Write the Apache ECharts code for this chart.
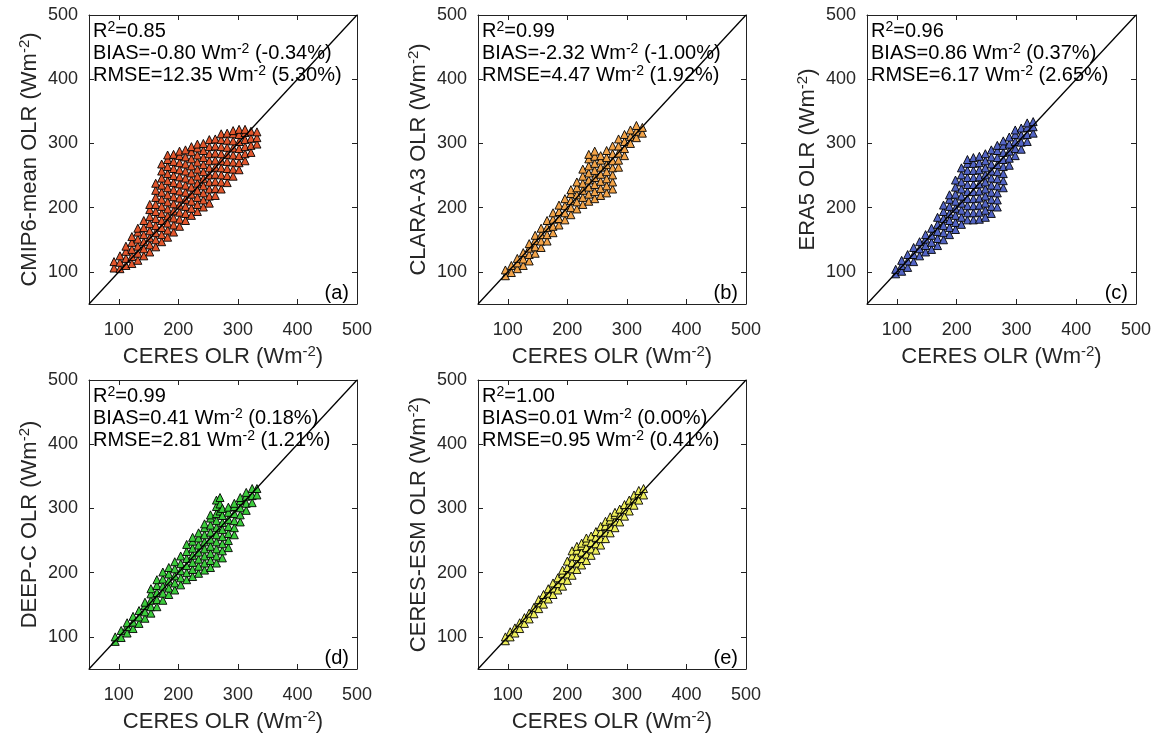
<!DOCTYPE html>
<html><head><meta charset="utf-8">
<script src="https://cdn.jsdelivr.net/npm/echarts@6/dist/echarts.min.js"></script>
<style>html,body{margin:0;padding:0;background:#fff}#c{width:1161px;height:740px}</style>
</head><body><div id="c"></div>
<script>
// ---- values ----
const axisMin = 50, axisMax = 500;
const tickValues = [100, 200, 300, 400, 500];
const panelLetters = ['(a)', '(b)', '(c)', '(d)', '(e)'];
const yNames = ['CMIP6-mean OLR', 'CLARA-A3 OLR', 'ERA5 OLR', 'DEEP-C OLR', 'CERES-ESM OLR'];
const xName = 'CERES OLR';
const r2Values = ['0.85', '0.99', '0.96', '0.99', '1.00'];
const biasValues = ['-0.80', '-2.32', '0.86', '0.41', '0.01'];
const biasPercents = ['(-0.34%)', '(-1.00%)', '(0.37%)', '(0.18%)', '(0.00%)'];
const rmseValues = ['12.35', '4.47', '6.17', '2.81', '0.95'];
const rmsePercents = ['(5.30%)', '(1.92%)', '(2.65%)', '(1.21%)', '(0.41%)'];
const oneToOne = [[50, 50], [500, 500]];

// scatter clouds: each entry = [CERES OLR, model OLR values at that CERES OLR...]
const cloudCMIP6 = [
 [92,106,116],[102,105,115,125],[112,110,121,132,140],[122,113,124,135,146,155],
 [132,118,129,140,151,162,168],[142,125,136,147,158,169,180],
 [152,131,142,153,164,175,186,197,205],[162,139,150,161,172,183,194,205,216,227,238],
 [172,147,158,169,180,191,202,213,224,235,246,257,268],
 [182,154,165,176,187,198,209,220,231,242,253,264,275,282],
 [192,162,173,184,195,206,217,228,239,250,261,272,283],
 [202,171,182,193,204,215,226,237,248,259,270,281,288],
 [212,180,191,202,213,224,235,246,257,268,279,290],
 [222,188,199,210,221,232,243,254,265,276,287,295],
 [232,194,205,216,227,238,249,260,271,282,293,299],
 [242,201,212,223,234,245,256,267,278,289,300],
 [252,207,218,229,240,251,262,273,284,295,306],
 [262,219,230,241,252,263,274,285,296,307],
 [272,229,240,251,262,273,284,295,306,315],
 [282,239,250,261,272,283,294,305,316],
 [292,249,260,271,282,293,304,315,320],
 [302,259,270,281,292,303,314,322],[312,273,284,295,306,317,322],
 [322,286,297,308,319],[332,299,309,318]
];
const cloudCLARA = [
 [96,94,103],[106,99,110],[116,105,114,121],[126,110,120,130],[136,117,127,137,144],
 [146,129,139,149,157],[156,138,148,158,168],[166,148,158,169,180],[176,161,171,182,192],
 [186,173,183,194,204],[196,181,192,203,214],[206,189,200,211,222,228],
 [216,198,209,220,231,240],[226,205,216,227,238,249,260],
 [236,210,221,232,243,254,265,276,283],[246,214,225,236,247,258,269,280,288],
 [256,219,230,241,252,263,274,281],[266,223,234,245,256,267,278,289],
 [276,229,240,251,262,273,284,296],[286,263,274,285,296,307],
 [296,281,292,303,314],[306,300,311,321],[316,309,319,328],[326,316,325]
];
const cloudERA5 = [
 [98,97,104],[108,101,110,118],[118,107,117,127],[128,116,127,138],[138,125,136,147],
 [148,131,141,151,158],[158,135,146,157,168],[168,141,152,163,174,185],
 [178,150,161,172,183,194,204],[188,158,169,180,191,202,213,220],
 [198,166,177,188,199,210,221,232,243],[208,174,185,196,207,218,229,240,251,262],
 [218,181,192,203,214,225,236,247,258,269,275],[228,181,192,203,214,225,236,247,258,269,278],
 [238,182,193,204,215,226,237,248,259,270,280],[248,185,196,207,218,229,240,251,262,273,284],
 [258,191,202,213,224,235,246,257,268,279,290],[268,201,212,223,234,245,256,267,278,289,297],
 [278,231,242,253,264,275,286,297,304],[288,266,277,288,299,310],
 [298,281,292,303,314,321],[308,291,302,313,324],[318,303,314,325,332],[328,316,326,334]
];
const cloudDEEPC = [
 [94,93,100],[104,99,110],[114,106,116,122],[124,113,123,132],[134,121,131,141],
 [144,129,139,149,154],[154,137,147,157,167,175],[164,147,158,169,180,189],
 [174,157,168,179,190,201],[184,166,176,187,198,208],[194,173,184,195,206,217],
 [204,181,192,203,214,226],[214,189,200,211,222,233,244],[224,194,205,216,227,238,249,255],
 [234,199,210,221,232,243,254,262],[244,204,215,226,237,248,259,270,276],
 [254,208,219,230,241,252,263,274,285,290],[264,215,226,237,248,259,270,281,292,303,313],
 [270,296,307,317],[274,223,234,245,256,267,278,289,300],[284,239,250,261,272,283,294,302],
 [294,259,270,281,292,303,308],[304,279,290,301,312,317],[314,297,308,319,325],
 [324,309,320,331],[332,321,331]
];
const cloudESM = [
 [96,94,100],[104,100,108],[112,106,114],[120,113,122],[128,121,130],[136,128,137],
 [144,136,146],[152,144,153,158],[160,151,161,166],[168,159,168,175],[176,166,176,184],
 [184,173,183,192],[192,179,189,199,204],[200,188,198,208,218],[208,196,206,216,226,234],
 [216,205,215,225,235,241],[224,212,222,232,242,246],[232,219,229,239,249,254],
 [240,227,237,247,257],[248,235,245,255,264],[256,243,253,263,272],[264,253,263,273,280],
 [272,262,272,282,287],[280,270,280,290,294],[288,279,289,299],[296,288,298,306],
 [304,296,306,313],[312,305,315,321],[320,313,323,328],[328,321,331]
];
const clouds = [cloudCMIP6, cloudCLARA, cloudERA5, cloudDEEPC, cloudESM];
const fillColors = ['#e2562c', '#f2a348', '#5264c4', '#3ccc3c', '#eeee5a'];

// ---- layout ----
const F = '"Liberation Sans", Arial, Helvetica, sans-serif';
const grids = [
  {left: 89, top: 15, width: 268, height: 289},
  {left: 478, top: 15, width: 268, height: 289},
  {left: 867, top: 15, width: 269, height: 289},
  {left: 89, top: 380, width: 268, height: 289},
  {left: 478, top: 380, width: 268, height: 289}
];
const axisColor = '#222';
const richName = {
  m: {fontSize: 22, fontFamily: F, color: '#262626', lineHeight: 25},
  s: {fontSize: 15, fontFamily: F, color: '#262626', lineHeight: 15, verticalAlign: 'top'}
};
const richNote = {
  m: {fontSize: 20, fontFamily: F, color: '#000', lineHeight: 22},
  s: {fontSize: 14, fontFamily: F, color: '#000', lineHeight: 14, verticalAlign: 'top'}
};

const xAxes = [], yAxes = [], series = [], graphics = [];
grids.forEach((g, i) => {
  const common = {
    type: 'value', gridIndex: i, min: axisMin, max: axisMax,
    splitLine: {show: false},
    axisLine: {show: true, onZero: false, lineStyle: {color: axisColor, width: 1}},
    axisTick: {show: true, inside: true, length: 5, customValues: tickValues, lineStyle: {color: axisColor, width: 1}}
  };
  xAxes.push(Object.assign({}, common, {
    position: 'bottom',
    axisLabel: {show: true, customValues: tickValues, margin: 17, fontSize: 18, fontFamily: F, color: '#262626'},
    name: '{m|' + xName + ' (Wm}{s|-2}{m|)}', nameLocation: 'middle', nameGap: 40,
    nameTextStyle: {rich: richName}
  }));
  xAxes.push(Object.assign({}, common, {position: 'top', axisLabel: {show: false}}));
  yAxes.push(Object.assign({}, common, {
    position: 'left',
    axisLabel: {show: true, customValues: tickValues, margin: 11, fontSize: 18, fontFamily: F, color: '#262626'},
    name: '{m|' + yNames[i] + ' (Wm}{s|-2}{m|)}', nameLocation: 'middle', nameGap: 47,
    nameTextStyle: {rich: richName}
  }));
  yAxes.push(Object.assign({}, common, {position: 'right', axisLabel: {show: false}}));

  const pts = [];
  clouds[i].forEach(col => col.slice(1).forEach(y => pts.push([col[0], y])));
  series.push({
    type: 'scatter', xAxisIndex: 2 * i, yAxisIndex: 2 * i, data: pts,
    symbol: 'triangle', symbolSize: 8, silent: true, z: 2,
    itemStyle: {color: fillColors[i], borderColor: '#000', borderWidth: 0.9, opacity: 1}
  });
  series.push({
    type: 'line', xAxisIndex: 2 * i, yAxisIndex: 2 * i, data: oneToOne,
    symbol: 'none', silent: true, z: 3, lineStyle: {color: '#000', width: 1.3}
  });

  const L = g.left, T = g.top;
  const lines = [
    '{m|R}{s|2}{m|=' + r2Values[i] + '}',
    '{m|BIAS=' + biasValues[i] + ' Wm}{s|-2}{m| ' + biasPercents[i] + '}',
    '{m|RMSE=' + rmseValues[i] + ' Wm}{s|-2}{m| ' + rmsePercents[i] + '}'
  ];
  lines.forEach((t, k) => graphics.push({
    type: 'text', x: L + 4, y: T + 16 + 22 * k, z: 10, silent: true,
    style: {text: t, rich: richNote, align: 'left', verticalAlign: 'middle'}
  }));
  graphics.push({
    type: 'text', x: L + g.width - 8, y: T + g.height - 11, z: 10, silent: true,
    style: {text: panelLetters[i], font: '20px ' + F, fill: '#000', align: 'right', verticalAlign: 'middle'}
  });
});

const chart = echarts.init(document.getElementById('c'), null, {renderer: 'canvas'});
chart.setOption({
  animation: false,
  backgroundColor: '#fff',
  grid: grids.map(g => Object.assign({containLabel: false, outerBoundsMode: 'none'}, g)),
  xAxis: xAxes,
  yAxis: yAxes,
  series: series,
  graphic: graphics
});
</script>
</body></html>
